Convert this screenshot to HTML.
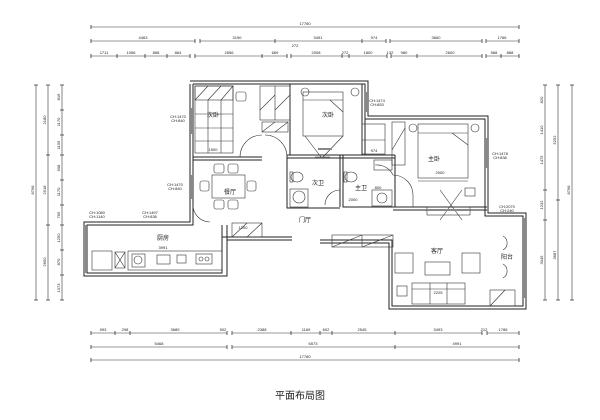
<!DOCTYPE html>
<html><head><meta charset="utf-8"><style>
html,body{margin:0;padding:0;background:#fff;width:600px;height:420px;overflow:hidden}
svg{display:block}
text{font-family:"Liberation Sans","Noto Sans CJK SC",sans-serif;fill:#222}
.d{font-size:4px}
.l{font-size:6px}
</style></head><body>
<svg width="600" height="420" viewBox="0 0 600 420" xmlns="http://www.w3.org/2000/svg">
<g stroke="#333" stroke-width="0.6" fill="none">
<!-- top dims -->
<line x1="91" y1="27" x2="519" y2="27"/>
<line x1="91" y1="41" x2="195" y2="41"/><line x1="200" y1="41" x2="386" y2="41"/><line x1="390" y1="41" x2="482" y2="41"/><line x1="486" y1="41" x2="519" y2="41"/>
<line x1="91" y1="56" x2="190" y2="56"/><line x1="195" y1="56" x2="287" y2="56"/><line x1="291" y1="56" x2="387" y2="56"/><line x1="391" y1="56" x2="482" y2="56"/><line x1="486" y1="56" x2="519" y2="56"/>
<!-- bottom dims -->
<line x1="91" y1="333" x2="227" y2="333"/><line x1="232" y1="333" x2="482" y2="333"/><line x1="487" y1="333" x2="519" y2="333"/>
<line x1="91" y1="347" x2="227" y2="347"/><line x1="232" y1="347" x2="395" y2="347"/><line x1="395" y1="347" x2="519" y2="347"/>
<line x1="91" y1="360" x2="519" y2="360"/>
<!-- left dims -->
<line x1="36" y1="85" x2="36" y2="300"/><line x1="48" y1="85" x2="48" y2="300"/><line x1="62" y1="85" x2="62" y2="300"/>
<!-- right dims -->
<line x1="545" y1="85" x2="545" y2="300"/><line x1="558" y1="85" x2="558" y2="300"/><line x1="572" y1="85" x2="572" y2="300"/>
</g>
<g stroke="#333" stroke-width="0.8">
<path d="M91 25v4M519 25v4M91 39v4M195 39v4M200 39v4M275 39v4M362 39v4M386 39v4M390 39v4M482 39v4M486 39v4M519 39v4
M91 54v4M117 54v4M145 54v4M167 54v4M190 54v4M195 54v4M262 54v4M287 54v4M291 54v4M342 54v4M349 54v4M387 54v4M391 54v4M417 54v4M482 54v4M486 54v4M501 54v4M519 54v4
M91 331v4M115 331v4M130 331v4M227 331v4M232 331v4M291 331v4M320 331v4M332 331v4M395 331v4M482 331v4M487 331v4M519 331v4
M91 345v4M227 345v4M232 345v4M395 345v4M519 345v4M91 358v4M519 358v4
M34 85h4M34 300h4M46 85h4M46 155h4M46 225h4M46 300h4M60 85h4M60 110h4M60 135h4M60 155h4M60 180h4M60 205h4M60 225h4M60 250h4M60 275h4M60 300h4
M543 85h4M543 300h4M556 85h4M556 200h4M556 300h4M570 85h4M570 300h4M543 190h4M543 220h4"/>
</g>
<g class="d" text-anchor="middle">
<text x="305" y="25">17780</text>
<text x="143" y="39">4463</text><text x="237" y="39">3190</text><text x="318" y="39">3491</text><text x="374" y="39">974</text><text x="436" y="39">3660</text><text x="502" y="39">1766</text>
<text x="295" y="47">272</text>
<text x="104" y="54">1711</text><text x="131" y="54">1056</text><text x="156" y="54">868</text><text x="178" y="54">864</text><text x="229" y="54">2656</text><text x="275" y="54">669</text><text x="316" y="54">2008</text><text x="345" y="54">272</text><text x="368" y="54">1800</text><text x="390" y="54">132</text><text x="404" y="54">980</text><text x="450" y="54">2600</text><text x="494" y="54">588</text><text x="510" y="54">888</text>
<text x="103" y="331">993</text><text x="125" y="331">298</text><text x="175" y="331">3689</text><text x="223" y="331">502</text><text x="262" y="331">2388</text><text x="306" y="331">1169</text><text x="326" y="331">602</text><text x="362" y="331">2545</text><text x="438" y="331">3493</text><text x="484" y="331">212</text><text x="503" y="331">1786</text>
<text x="159" y="345">5468</text><text x="313" y="345">6573</text><text x="457" y="345">4991</text>
<text x="305" y="358">17780</text>
</g>
<g class="d" text-anchor="middle">
<text transform="translate(34 190) rotate(-90)">8798</text>
<text transform="translate(46 120) rotate(-90)">2180</text><text transform="translate(46 190) rotate(-90)">2518</text><text transform="translate(46 262) rotate(-90)">2650</text>
<text transform="translate(60 97) rotate(-90)">816</text><text transform="translate(60 122) rotate(-90)">1170</text><text transform="translate(60 145) rotate(-90)">1195</text><text transform="translate(60 168) rotate(-90)">608</text><text transform="translate(60 192) rotate(-90)">1170</text><text transform="translate(60 215) rotate(-90)">765</text><text transform="translate(60 238) rotate(-90)">1250</text><text transform="translate(60 262) rotate(-90)">870</text><text transform="translate(60 288) rotate(-90)">1373</text>
<text transform="translate(543 100) rotate(-90)">820</text><text transform="translate(543 130) rotate(-90)">1410</text><text transform="translate(543 160) rotate(-90)">1475</text><text transform="translate(543 205) rotate(-90)">1232</text><text transform="translate(543 260) rotate(-90)">3045</text>
<text transform="translate(556 140) rotate(-90)">5252</text><text transform="translate(556 255) rotate(-90)">3687</text><text transform="translate(570 190) rotate(-90)">8798</text>
</g>
<!-- walls -->
<g stroke="#222" stroke-width="1" fill="none">
<path d="M190 81H368V116H488V213H526V309H389V243H320"/>
<path d="M193 84H365V119H485V216H523V306H392V240H320"/>
<path d="M292 240H227V276H84V222H190V84"/>
<path d="M292 237H222V273H87V225H193V84"/>
<path d="M193 157H262M193 160H262M287 155H395M287 158H395"/>
<path d="M290 84V155M362 84V155M365 119V155"/>
<path d="M287 155V208H340M287 208V155M340 155V207M343 155V207H395V155"/>
<path d="M393 207H487M393 210H487"/>
<path d="M193 160V222M190 160V222"/>
<path d="M222 225V237M227 225V240"/>
</g>
<g stroke="#333" stroke-width="0.6" fill="none">
<!-- door arcs -->
<path d="M240 157A22 22 0 0 1 262 135M287 157A22 22 0 0 0 265 135"/>
<path d="M393 175A20 20 0 0 1 413 195V207M375 165A18 18 0 0 1 393 175"/>
<path d="M193 205A17 17 0 0 0 210 222M340 190A15 15 0 0 0 325 205"/>
<!-- left bedroom -->
<rect x="195" y="86" width="38" height="67"/><rect x="195" y="86" width="38" height="14"/>
<path d="M195 100L208 86M208 100L221 86M221 100L233 86M195 114H233M195 128H233M195 141H233M208 100V153M221 100V153"/>
<rect x="236" y="92" width="10" height="9" rx="2"/>
<rect x="260" y="86" width="30" height="34"/><path d="M275 86V120M260 110L275 95M275 110L290 95"/>
<rect x="262" y="122" width="26" height="10"/><path d="M262 132L275 122M275 132L288 122"/>
<!-- bed 2 -->
<rect x="303" y="92" width="40" height="44"/><path d="M303 100H343M330 100L343 112"/>
<circle cx="305" cy="92" r="4"/><circle cx="355" cy="92" r="4"/>
<path d="M305 136L321 157M343 136L323 157M315 157H330"/>
<rect x="362" y="124" width="23" height="30"/><path d="M362 140H385"/>
<rect x="392" y="122" width="13" height="43"/><path d="M392 150L405 128"/>
<!-- master -->
<rect x="418" y="124" width="50" height="54"/><path d="M418 133H468M452 133L468 145"/>
<circle cx="413" cy="128" r="4"/><circle cx="475" cy="128" r="4"/>
<path d="M418 181H468M440 190L462 220M462 190L440 220"/>
<rect x="427" y="207" width="43" height="8"/><rect x="465" y="188" width="10" height="8"/>
<!-- bathrooms -->
<ellipse cx="297" cy="177" rx="6" ry="5"/><rect x="290" y="172" width="3" height="10"/>
<circle cx="299" cy="197" r="6"/><rect x="290" y="189" width="18" height="18"/>
<ellipse cx="351" cy="177" rx="6" ry="5"/><rect x="344" y="172" width="3" height="10"/>
<rect x="372" y="190" width="20" height="16"/><circle cx="382" cy="198" r="5"/>
<rect x="374" y="160" width="18" height="10"/>
<!-- dining -->
<rect x="212" y="175" width="33" height="23"/>
<rect x="214" y="164" width="10" height="9" rx="2"/><rect x="228" y="164" width="10" height="9" rx="2"/>
<rect x="214" y="200" width="10" height="9" rx="2"/><rect x="228" y="200" width="10" height="9" rx="2"/>
<rect x="200" y="181" width="9" height="10" rx="2"/><rect x="247" y="181" width="9" height="10" rx="2"/>
<!-- kitchen -->
<rect x="128" y="251" width="94" height="19"/>
<rect x="132" y="254" width="13" height="13"/><circle cx="138" cy="260" r="4"/>
<rect x="157" y="255" width="13" height="9"/><rect x="177" y="255" width="9" height="8"/>
<rect x="196" y="254" width="16" height="10"/><circle cx="201" cy="259" r="2"/><circle cx="207" cy="259" r="2"/>
<rect x="92" y="251" width="20" height="19"/><rect x="115" y="252" width="10" height="16"/><path d="M115 252L125 268M125 252L115 268"/>
<rect x="232" y="223" width="30" height="14"/><path d="M232 237L247 223M247 237L262 223"/>
<!-- living -->
<rect x="332" y="235" width="61" height="12"/><path d="M332 247L362 235M362 247L393 235M362 235V247"/>
<rect x="395" y="253" width="18" height="20"/><rect x="462" y="253" width="18" height="20"/>
<rect x="425" y="262" width="25" height="13"/>
<rect x="412" y="283" width="53" height="21"/><path d="M430 283V304M447 283V304M412 289H465"/>
<rect x="397" y="286" width="10" height="10"/>
<path d="M503 236A8 8 0 0 1 503 250M503 264A8 8 0 0 1 503 278"/>
<rect x="490" y="290" width="25" height="16"/><path d="M490 306L505 290"/>
</g>
<!-- windows -->
<g fill="#888"><rect x="190" y="108" width="3" height="26"/><rect x="190" y="175" width="3" height="24"/><rect x="365" y="92" width="3" height="20"/><rect x="485" y="138" width="3" height="30"/><rect x="523" y="218" width="3" height="80"/><rect x="85" y="225" width="2" height="48"/><rect x="318" y="148" width="14" height="2"/><rect x="427" y="209" width="43" height="2"/></g>
<g class="l" text-anchor="middle">
<text x="213" y="117">次卧</text><text x="328" y="117">次卧</text><text x="434" y="161">主卧</text>
<text x="318" y="185">次卫</text><text x="361" y="190">主卫</text><text x="230" y="194">餐厅</text>
<text x="163" y="240">厨房</text><text x="305" y="222">门厅</text><text x="437" y="253">客厅</text><text x="507" y="259">阳台</text>
</g>
<g class="d" text-anchor="middle">
<text x="213" y="151">1500</text><text x="163" y="249">3991</text><text x="438" y="294">2225</text><text x="440" y="174">2000</text><text x="374" y="152">974</text><text x="243" y="229">1200</text><text x="353" y="201">2000</text><text x="378" y="189">800</text>
<text x="178" y="118">CH:1470</text><text x="178" y="122">CH:840</text><text x="175" y="186">CH:1470</text><text x="175" y="190">CH:840</text>
<text x="377" y="102">CH:1474</text><text x="377" y="106">CH:853</text><text x="500" y="155">CH:1478</text><text x="500" y="159">CH:838</text>
<text x="507" y="208">CH:2070</text><text x="507" y="212">CH:240</text><text x="97" y="214">CH:1080</text><text x="97" y="218">CH:1140</text><text x="150" y="214">CH:1497</text><text x="150" y="218">CH:838</text>
</g>
<text x="300" y="399" text-anchor="middle" style="font-size:10px">平面布局图</text>
</svg>
</body></html>
